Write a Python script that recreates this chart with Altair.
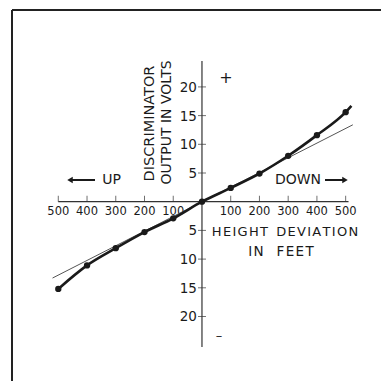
import altair as alt
import pandas as pd

# ---- data ----
dot_x = [-500, -400, -300, -200, -100, 0, 100, 200, 300, 400, 500]
dot_y = [-15.2, -11.1, -8.1, -5.3, -2.9, 0, 2.4, 4.9, 8.0, 11.6, 15.6]
curve_x = dot_x + [520]
curve_y = dot_y + [16.7]
lin_x = [-520, 525]
lin_y = [-13.3, 13.4]
xtick_vals = [-500, -400, -300, -200, -100, 100, 200, 300, 400, 500]
xtick_labels = ["500", "400", "300", "200", "100", "100", "200", "300", "400", "500"]
ytick_vals = [20, 15, 10, 5, -5, -10, -15, -20]
ytick_labels = ["20", "15", "10", "5", "5", "10", "15", "20"]
xaxis_ext = [-500, 510]
yaxis_ext = [-25.3, 24.5]

FONT = "DejaVu Sans"
HS = "\u200a"  # hair space for letter spacing
NB = "\u00a0"  # non-collapsing space
xs = alt.Scale(domain=[-675, 623], nice=False, zero=False)
ys = alt.Scale(domain=[-31.24, 33.75], nice=False, zero=False)

def X(f="x"):
    return alt.X(f + ":Q", scale=xs, axis=None)

def Y(f="y"):
    return alt.Y(f + ":Q", scale=ys, axis=None)

def spaced(s, n=2):
    return (NB * n).join(HS.join(w) for w in s.split(" "))

curve_df = pd.DataFrame({"x": curve_x, "y": curve_y})
dot_df = pd.DataFrame({"x": dot_x, "y": dot_y})
lin_df = pd.DataFrame({"x": lin_x, "y": lin_y})
xt_df = pd.DataFrame({"x": xtick_vals, "y": [0] * len(xtick_vals), "t": xtick_labels})
yt_df = pd.DataFrame({"x": [0] * len(ytick_vals), "y": ytick_vals, "t": ytick_labels})
xa_df = pd.DataFrame({"x": xaxis_ext, "y": [0, 0]})
ya_df = pd.DataFrame({"x": [0, 0], "y": yaxis_ext})
one = pd.DataFrame({"d": [0]})

ink = "#1a1a1a"

layers = []
# frame
layers.append(alt.Chart(one).mark_rule(color="#222", strokeWidth=2).encode(
    x=alt.value(4), y=alt.value(2), y2=alt.value(385)))
layers.append(alt.Chart(one).mark_rule(color="#222", strokeWidth=2).encode(
    x=alt.value(4), x2=alt.value(385), y=alt.value(2)))
# axes
layers.append(alt.Chart(xa_df).mark_line(color="#333", strokeWidth=1.2).encode(x=X(), y=Y()))
layers.append(alt.Chart(ya_df).mark_line(color="#333", strokeWidth=1.2).encode(x=X(), y=Y(), order="y:Q"))
layers.append(alt.Chart(xt_df).mark_tick(color="#333", orient="vertical", size=6, thickness=1, yOffset=-3).encode(x=X(), y=Y()))
layers.append(alt.Chart(yt_df).mark_tick(color="#333", orient="horizontal", size=8, thickness=1).encode(x=X(), y=Y()))
layers.append(alt.Chart(xt_df).mark_text(font=FONT, fontSize=11.5, color=ink, dy=10).encode(x=X(), y=Y(), text="t:N"))
layers.append(alt.Chart(yt_df).mark_text(font=FONT, fontSize=13.5, color=ink, align="right", dx=-5, dy=1).encode(x=X(), y=Y(), text="t:N"))
# thin straight line
layers.append(alt.Chart(lin_df).mark_line(color="#555", strokeWidth=1).encode(x=X(), y=Y()))
# thick curve
layers.append(alt.Chart(curve_df).mark_line(color=ink, strokeWidth=2.6, interpolate="monotone").encode(x=X(), y=Y()))
layers.append(alt.Chart(dot_df).mark_circle(color=ink, size=40, opacity=1).encode(x=X(), y=Y()))

def label(t, x, y, size=13, angle=0):
    return alt.Chart(pd.DataFrame({"t": [t]})).mark_text(
        font=FONT, fontSize=size, color=ink, angle=angle, baseline="middle", align="center"
    ).encode(x=alt.value(x), y=alt.value(y), text="t:N")

layers.append(label("DISCRIMINATOR", 142, 115.5, 14.5, 270))
layers.append(label("OUTPUT IN VOLTS", 159, 114.5, 14, 270))
layers.append(label("+", 218, 70, 16))
layers.append(label("–", 211, 328, 13))
layers.append(label("UP", 103.7, 172, 14))
layers.append(label("DOWN", 290, 172, 14))
layers.append(label(spaced("HEIGHT DEVIATION", 2), 277, 224, 13))
layers.append(label(spaced("IN FEET", 3), 273, 244, 13.5))

# arrows
layers.append(alt.Chart(one).mark_rule(color=ink, strokeWidth=2).encode(
    x=alt.value(62), x2=alt.value(87), y=alt.value(172)))
layers.append(alt.Chart(one).mark_point(shape="triangle-left", filled=True, color=ink, size=40, opacity=1).encode(
    x=alt.value(62), y=alt.value(172)))
layers.append(alt.Chart(one).mark_rule(color=ink, strokeWidth=2).encode(
    x=alt.value(317), x2=alt.value(337), y=alt.value(172)))
layers.append(alt.Chart(one).mark_point(shape="triangle-right", filled=True, color=ink, size=40, opacity=1).encode(
    x=alt.value(337), y=alt.value(172)))

chart = alt.layer(*layers).properties(
    width=373, height=373, autosize="none", padding=0, background="white"
).configure_view(stroke=None)

chart.save("out.html", embed_options={"renderer": "svg", "actions": False})
